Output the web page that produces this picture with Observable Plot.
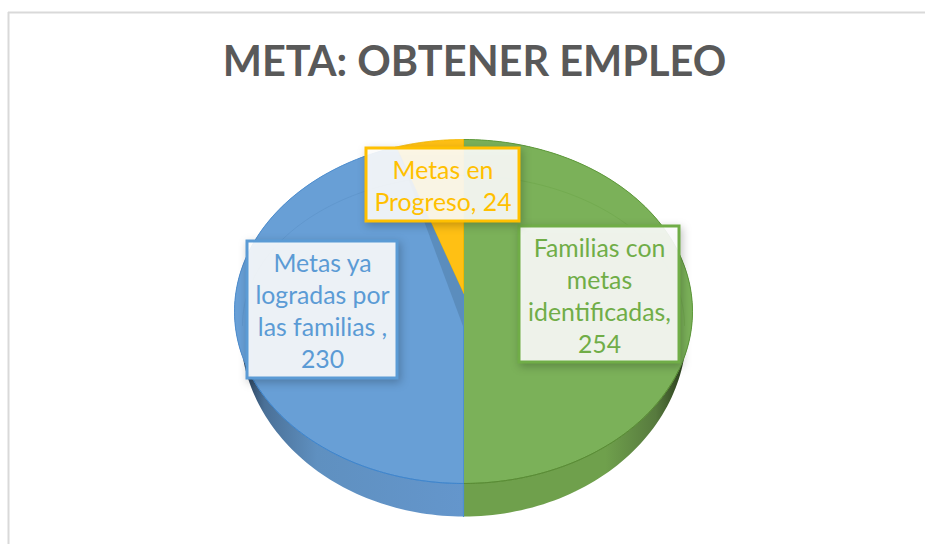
<!DOCTYPE html>
<html lang="es">
<head>
<meta charset="utf-8">
<style>html,body{margin:0;padding:0;background:#fff;overflow:hidden}svg{display:block}</style>
<script src="https://cdn.jsdelivr.net/npm/d3@7"></script>
<script src="https://cdn.jsdelivr.net/npm/@observablehq/plot@0.6"></script>
</head>
<body>
<script>
// Data
const categories = ["Familias con metas identificadas", "Metas ya logradas por las familias", "Metas en Progreso"];
const values = [254, 230, 24];
const labelLines = ["Familias con\nmetas\nidentificadas,\n254", "Metas ya\nlogradas por\nlas familias ,\n230", "Metas en\nProgreso, 24"];
const titleText = "META: OBTENER EMPLEO";

// Styling
const accent = ["#70ad47", "#5b9bd5", "#ffc000"];
const faceFill = ["#7bb159", "#689fd6", "#ffc014"];
const edge = ["#5f9a3c", "#4f8fd0", "#f2b800"];
const labelBox = [
  {x1: 519, x2: 679, y1: 226, y2: 362},
  {x1: 247, x2: 397, y1: 241, y2: 378},
  {x1: 366, x2: 519, y1: 148, y2: 221}
];

// Perspective of the 3-D pie (layout, in pixels)
const face = {cx: 463, cy: 311, rx: 229, ry: 172};
const base = {cx: 463, cy: 330, rx: 223, ry: 186};
const hub = {x: 463, y: 293};
const wallDepth = 34;
const ring = {cx: 463, cy: 325, rx: 221, ry: 150};

const onEllipse = (e, a) => ({x: e.cx + e.rx * Math.sin(a), y: e.cy - e.ry * Math.cos(a)});
const arcPoints = (e, a0, a1) => d3.range(0, 121).map(i => onEllipse(e, a0 + (a1 - a0) * i / 120));

const slices = d3.pie().sort(null)(values);
const wedge = s => [hub, ...arcPoints(face, s.startAngle, s.endAngle), hub];
const wallOf = s => [...arcPoints(face, s.startAngle, s.endAngle), ...arcPoints(base, s.endAngle, s.startAngle)];
const rimYellow = onEllipse(face, slices[2].startAngle);
const innerWall = [rimYellow, hub, {x: hub.x, y: hub.y + wallDepth}, rimYellow];
const seam = [onEllipse(face, Math.PI), onEllipse(base, Math.PI)];

const gradient = (id, stops) => () => {
  const defs = d3.create("svg:defs");
  const g = defs.append("linearGradient").attr("id", id);
  stops.forEach(([o, c]) => g.append("stop").attr("offset", o).attr("stop-color", c));
  return defs.node();
};

const xy = {x: "x", y: "y"};
const plot = Plot.plot({
  width: 925, height: 544,
  margin: 0,
  style: {background: "#fff"},
  x: {domain: [0, 925], range: [0, 925], axis: null},
  y: {domain: [0, 544], range: [0, 544], axis: null},
  marks: [
    gradient("wallBlue", [[0.05, "#2c435c"], [0.13, "#4a7097"], [0.36, "#5f90c0"], [1, "#6496cc"]]),
    gradient("wallGreen", [[0, "#6fa04c"], [0.62, "#6fa04c"], [0.84, "#577a3e"], [0.95, "#2f4420"]]),
    Plot.ruleY([12], {x1: 8, x2: 925, stroke: "#d9d9d9", strokeWidth: 2}),
    Plot.ruleX([8], {y1: 12, y2: 544, stroke: "#d9d9d9", strokeWidth: 2}),
    // side walls
    Plot.line(wallOf(slices[0]), {...xy, fill: "url(#wallGreen)", stroke: "none"}),
    Plot.line(wallOf(slices[1]).filter(p => p.x <= hub.x), {...xy, fill: "url(#wallBlue)", stroke: "none"}),
    Plot.line(seam, {...xy, stroke: "#4f8fd0", strokeWidth: 1.2}),
    // faces
    ...slices.map((s, i) => Plot.line(wedge(s), {...xy, fill: faceFill[i], stroke: edge[i], strokeWidth: 1})),
    // inner wall seen through the gap
    Plot.line(innerWall, {...xy, fill: "#5b8dbd", stroke: "none"}),
    // bevel ring
    Plot.line(arcPoints(ring, -Math.PI / 2, 0), {...xy, stroke: "#4f86bb", strokeWidth: 1, strokeOpacity: 0.3}),
    Plot.line(arcPoints(ring, 0, Math.PI / 2), {...xy, stroke: "#5f9a3c", strokeWidth: 1, strokeOpacity: 0.3}),
    // face front rim on the wall
    Plot.line(arcPoints(face, Math.PI / 2 + 0.35, Math.PI), {...xy, stroke: "#5a8a35", strokeWidth: 1}),
    Plot.line(arcPoints(face, Math.PI, 3 * Math.PI / 2 - 0.35), {...xy, stroke: "#3f85cc", strokeWidth: 1}),
    // title
    Plot.text([titleText], {
      x: () => 474, y: () => 62,
      text: d => d,
      lineAnchor: "middle",
      fontFamily: "Lato", fontWeight: 700, fontSize: 41.5, fill: "#595959"
    }),
    // labels
    ...labelBox.map((b, i) => Plot.rect([b], {
      x1: "x1", x2: "x2", y1: "y1", y2: "y2",
      fill: "#fff", fillOpacity: 0.89, stroke: accent[i], strokeWidth: 3,
      imageFilter: "drop-shadow(2px 3px 4px rgba(0,0,0,0.25))"
    })),
    Plot.text(labelLines, {
      x: (d, i) => (labelBox[i].x1 + labelBox[i].x2) / 2,
      y: (d, i) => (labelBox[i].y1 + labelBox[i].y2) / 2,
      text: d => d,
      fill: (d, i) => accent[i],
      fontFamily: "Lato", fontSize: 24.8, lineHeight: 1.29
    })
  ]
});
document.body.appendChild(plot);
</script>
</body>
</html>
